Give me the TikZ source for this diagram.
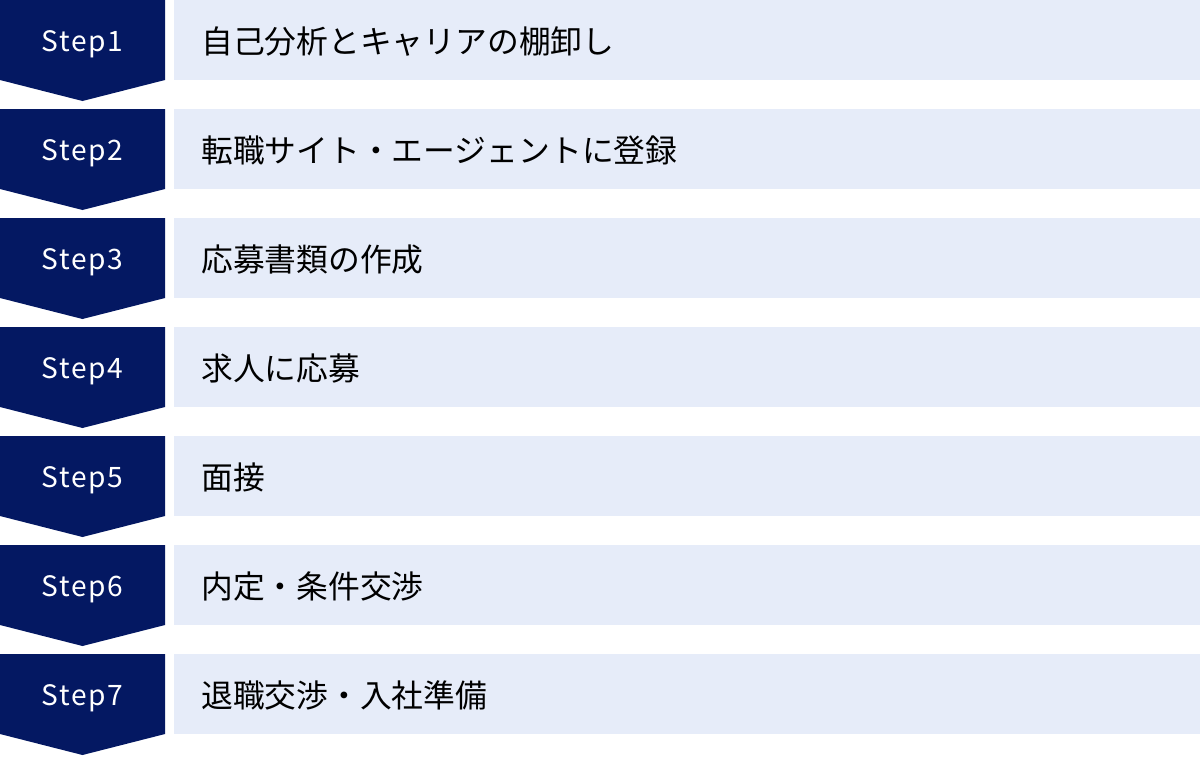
\documentclass[tikz,border=0pt]{standalone}
\usepackage{fontspec}
\newfontfamily\jpfont{Noto Sans CJK JP}
\newfontfamily\stepfont[LetterSpace=6.5]{Noto Sans CJK JP}
\definecolor{stepnavy}{HTML}{041862}
\definecolor{itemblue}{HTML}{E6ECF9}
\tikzset{
  stepbg/.style={fill=stepnavy},
  steplabel/.style={text=white, font=\stepfont\fontsize{20pt}{23pt}\selectfont, inner sep=0pt},
  itembox/.style={anchor=west, inner ysep=0pt,
    inner xsep=0.675cm, text width=24.3cm, align=left,
    font=\jpfont\fontsize{22.6pt}{26pt}\selectfont}
}
\begin{document}
\begin{tikzpicture}[x=0.025cm, y=-0.025cm]
        \useasboundingbox (0, 0) rectangle (1200, 756);
        \fill[stepbg] (0, 0) -- (165, 0) -- (165, 80) -- (82.5, 101) -- (0, 80) -- cycle;
        \node[steplabel] (s1) at (82.5, 44) {Step1};
        \fill[itemblue] (174, 0) rectangle (1200, 80);
        \node[itembox] (t1) at (174, 41.5) {自己分析とキャリアの棚卸し};

        \fill[stepbg] (0, 109) -- (165, 109) -- (165, 189) -- (82.5, 210) -- (0, 189) -- cycle;
        \node[steplabel] (s2) at (82.5, 153) {Step2};
        \fill[itemblue] (174, 109) rectangle (1200, 189);
        \node[itembox] (t2) at (174, 150.5) {転職サイト・エージェントに登録};

        \fill[stepbg] (0, 218) -- (165, 218) -- (165, 298) -- (82.5, 319) -- (0, 298) -- cycle;
        \node[steplabel] (s3) at (82.5, 262) {Step3};
        \fill[itemblue] (174, 218) rectangle (1200, 298);
        \node[itembox] (t3) at (174, 259.5) {応募書類の作成};

        \fill[stepbg] (0, 327) -- (165, 327) -- (165, 407) -- (82.5, 428) -- (0, 407) -- cycle;
        \node[steplabel] (s4) at (82.5, 371) {Step4};
        \fill[itemblue] (174, 327) rectangle (1200, 407);
        \node[itembox] (t4) at (174, 368.5) {求人に応募};

        \fill[stepbg] (0, 436) -- (165, 436) -- (165, 516) -- (82.5, 537) -- (0, 516) -- cycle;
        \node[steplabel] (s5) at (82.5, 480) {Step5};
        \fill[itemblue] (174, 436) rectangle (1200, 516);
        \node[itembox] (t5) at (174, 477.5) {面接};

        \fill[stepbg] (0, 545) -- (165, 545) -- (165, 625) -- (82.5, 646) -- (0, 625) -- cycle;
        \node[steplabel] (s6) at (82.5, 589) {Step6};
        \fill[itemblue] (174, 545) rectangle (1200, 625);
        \node[itembox] (t6) at (174, 586.5) {内定・条件交渉};

        \fill[stepbg] (0, 654) -- (165, 654) -- (165, 734) -- (82.5, 755) -- (0, 734) -- cycle;
        \node[steplabel] (s7) at (82.5, 698) {Step7};
        \fill[itemblue] (174, 654) rectangle (1200, 734);
        \node[itembox] (t7) at (174, 695.5) {退職交渉・入社準備};
    \end{tikzpicture}
\end{document}
